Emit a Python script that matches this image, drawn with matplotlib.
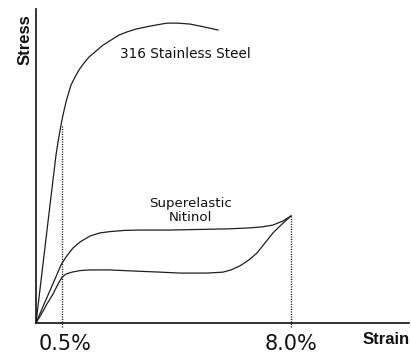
import matplotlib.pyplot as plt
from matplotlib.transforms import ScaledTranslation

# schematic strain axis (not to scale) and normalised stress
STEEL_STRAIN = [0.0, 0.28, 0.56, 0.68, 0.80, 0.88, 1.00, 1.08, 1.20, 1.28, 1.40, 1.56, 1.72,
                1.92, 2.12, 2.40, 2.68, 3.00, 3.32, 3.64, 4.00, 4.40, 4.80, 5.24, 5.68,
                6.16, 6.72, 7.28]
STEEL_STRESS = [0.0, 1.88, 3.76, 4.55, 5.35, 5.76, 6.31, 6.62, 7.04, 7.26, 7.58, 7.83, 8.06,
                8.28, 8.47, 8.66, 8.85, 9.01, 9.17, 9.27, 9.36, 9.43, 9.49, 9.55, 9.55,
                9.52, 9.43, 9.33]

NITINOL_LOAD_STRAIN = [0.0, 0.24, 0.48, 0.76, 1.00, 1.20, 1.48, 1.76, 2.16, 2.56, 2.96, 3.56,
                       4.16, 5.36, 6.56, 7.76, 8.56, 9.04, 9.48, 9.88, 10.2]
NITINOL_LOAD_STRESS = [0.0, 0.45, 0.89, 1.40, 1.85, 2.10, 2.39, 2.58, 2.77, 2.87, 2.91, 2.95,
                       2.96, 2.96, 2.98, 3.00, 3.03, 3.06, 3.12, 3.25, 3.41]

NITINOL_UNLOAD_STRAIN = [10.2, 9.84, 9.48, 9.16, 8.84, 8.52, 8.16, 7.80, 7.48, 6.84, 5.76,
                         4.96, 3.76, 2.96, 2.16, 1.76, 1.44, 1.20, 1.04, 0.88, 0.68, 0.44,
                         0.24, 0.0]
NITINOL_UNLOAD_STRESS = [3.41, 3.15, 2.87, 2.55, 2.23, 2.01, 1.82, 1.69, 1.62, 1.59, 1.59,
                         1.62, 1.66, 1.69, 1.69, 1.67, 1.62, 1.56, 1.46, 1.24, 0.92, 0.61,
                         0.32, 0.0]

TICK_POS = [1.02, 10.2]
TICK_LABELS = ['0.5%', '8.0%']
MARKER_STRESS = [6.31, 3.41]  # where the dotted guides meet the curves


def main():
    fig = plt.figure(figsize=(4.11, 3.54), dpi=100)
    ax = fig.add_axes([36 / 411, 31 / 354, 373 / 411, 314 / 354])

    line_kw = dict(color='#1e1e1e', lw=0.9, solid_joinstyle='round')
    ax.plot(STEEL_STRAIN, STEEL_STRESS, **line_kw)
    ax.plot(NITINOL_LOAD_STRAIN, NITINOL_LOAD_STRESS, **line_kw)
    ax.plot(NITINOL_UNLOAD_STRAIN, NITINOL_UNLOAD_STRESS, **line_kw)

    for x, y in zip(TICK_POS, MARKER_STRESS):
        ax.plot([x, x], [-0.12, y], color='#111111', lw=1.0, ls=(0, (0.8, 1.0)),
                clip_on=False)

    ax.set_xlim(0, 14.92)
    ax.set_ylim(0, 10)
    for side in ('top', 'right'):
        ax.spines[side].set_visible(False)
    for side in ('left', 'bottom'):
        ax.spines[side].set_linewidth(1.2)
        ax.spines[side].set_color('#111111')

    ax.set_yticks([])
    ax.set_xticks(TICK_POS, TICK_LABELS)
    ax.tick_params(axis='x', length=0, pad=8, labelsize=15, colors='#111111')
    first = ax.get_xticklabels()[0]
    first.set_transform(first.get_transform() + ScaledTranslation(0.04, 0, fig.dpi_scale_trans))

    ax.text(3.36, 8.57, '316 Stainless Steel', fontsize=9.8, va='center', ha='left',
            color='#111111')
    ax.text(6.16, 3.57, 'Superelastic\nNitinol', fontsize=9.6, va='center', ha='center',
            multialignment='center', linespacing=1.1, color='#111111')

    fig.text(25.5 / 411, 1 - 40 / 354, 'Stress', rotation=90, ha='center', va='center',
             fontsize=12, fontweight='bold', family='Liberation Sans', color='#111111')
    fig.text(363 / 411, 1 - 340 / 354, 'Strain', ha='left', va='center',
             fontsize=12, fontweight='bold', family='Liberation Sans', color='#111111')

    fig.savefig('out.png', dpi=100)


if __name__ == '__main__':
    main()
